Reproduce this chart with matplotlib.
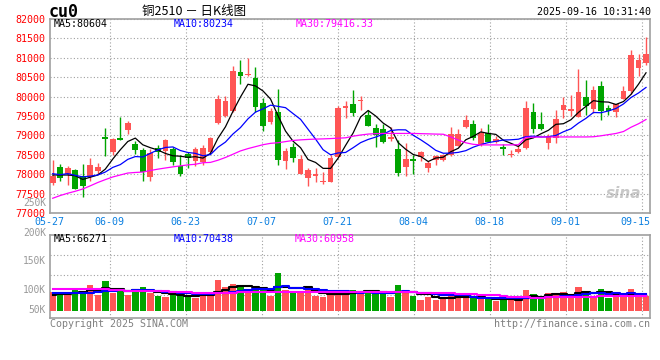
import matplotlib
matplotlib.use("Agg")
import matplotlib.pyplot as plt
import numpy as np
import pandas as pd

# ---- data (cu0, daily K, 2025-05-27 .. 2025-09-16) ----
date_labels = ["05-27", "06-09", "06-23", "07-07", "07-21", "08-04", "08-18", "09-01", "09-15"]
date_index = [0, 8, 18, 28, 38, 48, 58, 68, 78]

opens = [77770, 78189, 78013, 78105, 77962, 77920, 78072, 78962, 78576, 78945,
         79147, 78769, 78618, 77920, 78668, 78601, 78660, 78206, 78517, 78341,
         78327, 78583, 79325, 79495, 79632, 80638, 80553, 80468, 79828, 79342,
         79606, 78335, 78702, 78011, 77892, 77960, 77789, 77789, 78455, 79717,
         79820, 79888, 79521, 79188, 79171, 78898, 78651, 78173, 78395, 78441,
         78152, 78373, 78373, 78492, 78737, 79220, 79288, 78754, 79068, 78834,
         78707, 78503, 78563, 78664, 79598, 79293, 78817, 78936, 79649, 79624,
         79479, 79997, 79675, 80286, 79700, 79598, 79929, 80142, 80727, 80872]
highs = [78366, 78265, 78214, 78139, 78256, 78416, 78290, 79198, 78945, 79483,
         79366, 78861, 78685, 78643, 78744, 78895, 78710, 78500, 78584, 78710,
         78753, 78967, 80050, 80016, 80792, 80954, 81005, 80775, 79956, 79709,
         80186, 78668, 78796, 78497, 78156, 78156, 78045, 78497, 79751, 79888,
         80161, 80024, 79649, 79291, 79291, 79222, 78881, 78796, 78497, 78610,
         78330, 78500, 78525, 79220, 79153, 79517, 79390, 79178, 79297, 78990,
         78783, 78630, 78758, 79878, 79827, 79598, 79030, 79649, 79980, 80031,
         80710, 80430, 80286, 80413, 79785, 79802, 80278, 81203, 81101, 81534]
lows = [77720, 77836, 77719, 77609, 77416, 77828, 78004, 78475, 78500, 78870,
        79030, 78517, 77819, 77819, 78416, 78374, 78248, 77946, 78172, 78223,
        78242, 78540, 79291, 79478, 79615, 80314, 80536, 79606, 79112, 79299,
        78242, 78131, 78327, 78011, 77687, 77789, 77747, 77789, 78455, 79461,
        79495, 79649, 79248, 78711, 78813, 78864, 77943, 77960, 78011, 78330,
        78051, 78229, 78339, 78475, 78720, 79178, 78881, 78729, 78839, 78800,
        78486, 78435, 78546, 78648, 79055, 79140, 78639, 78817, 79454, 79496,
        79471, 79522, 79581, 79403, 79522, 79479, 79929, 80057, 80541, 80812]
closes = [77955, 77903, 78164, 77618, 77685, 78240, 78189, 78920, 78920, 78878,
          79307, 78626, 78055, 78551, 78576, 78870, 78324, 77996, 78408, 78660,
          78685, 78924, 79948, 79888, 80656, 80528, 80570, 79734, 79240, 79623,
          78370, 78591, 78429, 78404, 78096, 77994, 77832, 78421, 79717, 79751,
          79589, 79905, 79248, 79009, 78839, 78950, 78020, 78395, 78335, 78585,
          78297, 78475, 78500, 79034, 79034, 79390, 78924, 79068, 78839, 78911,
          78639, 78529, 78648, 79700, 79165, 79165, 78978, 79420, 79777, 79675,
          80108, 79760, 80159, 79632, 79632, 79802, 80142, 81076, 80948, 81101]
# closes before the window, estimated from where the MA5/MA10 lines start
prior_closes = [78150, 77900, 78050, 78100, 78035, 77903, 78164, 77713, 78160]
# MA30 as drawn (Sina's line is not a plain mean of the visible closes)
ma30 = [77380, 77450, 77509, 77560, 77618, 77700, 77786, 77860, 77929, 77980,
        78030, 78045, 78055, 78095, 78130, 78160, 78189, 78215, 78240, 78256,
        78296, 78304, 78360, 78431, 78515, 78600, 78660, 78710, 78760, 78795,
        78811, 78840, 78870, 78885, 78896, 78905, 78910, 78918, 78928, 78938,
        78980, 79010, 79034, 79045, 79051, 79051, 79051, 79051, 79051, 79045,
        79040, 79034, 79030, 78960, 78880, 78810, 78770, 78755, 78755, 78755,
        78755, 78755, 78760, 78950, 78953, 78960, 78960, 78960, 78960, 78960,
        78960, 78960, 78965, 78990, 79020, 79050, 79100, 79210, 79300, 79410]

# volume in thousands of lots
volumes = [77.3, 73.3, 77.3, 85.5, 81.4, 105.8, 65.1, 122.1, 73.3, 81.4,
           65.1, 85.5, 97.7, 73.3, 61.1, 57.0, 65.1, 65.1, 65.1, 54.3,
           71.9, 77.3, 126.2, 97.7, 109.9, 96.3, 77.3, 96.3, 89.6, 62.4,
           154.7, 85.5, 81.4, 81.4, 85.5, 62.4, 57.0, 65.1, 77.3, 77.3,
           85.5, 77.3, 85.5, 71.9, 71.9, 57.0, 105.8, 81.4, 62.4, 44.8,
           57.0, 44.8, 54.3, 71.9, 54.3, 54.3, 51.6, 51.6, 48.8, 42.1,
           57.0, 44.8, 39.3, 85.5, 69.2, 51.6, 73.3, 69.2, 77.3, 57.0,
           97.7, 77.3, 57.0, 89.6, 54.3, 57.0, 57.0, 89.6, 62.4, 62.4]
prior_volumes = [80, 78, 79, 80, 78, 62, 60, 64, 61.7]
vol_ma30 = [91, 91, 90, 90, 89, 89, 88, 88, 87, 86,
            83, 82, 82, 82, 81, 81, 77, 76, 76, 73,
            73, 72, 72, 72, 73, 76, 77, 77, 77, 77,
            78, 78, 78, 78, 78, 77, 77, 77, 77, 76,
            76, 76, 76, 76, 76, 76, 76, 76, 76, 75,
            75, 74, 72, 72, 68, 68, 67, 64, 64, 63,
            59, 58, 58, 55, 54, 54, 57, 57, 57, 58,
            58, 58, 58, 59, 59, 60, 60, 60, 61, 61]

price_levels = list(range(77000, 82001, 500))
vol_labels = ["250K", "200K", "150K", "100K", "50K"]

main_legend = ["MA5:80604", "MA10:80234", "MA30:79416.33"]
vol_legend = ["MA5:66271", "MA10:70438", "MA30:60958"]

# ---- styling ----
RED = "#FF5555"
GREEN = "#00A400"
GRID = "#A0A0A0"
MA_COLORS = ["black", "#0000FF", "#FF00FF"]
DOTS = (0, (1, 2))
FS = 7.2

plt.rcParams["font.family"] = ["DejaVu Sans Mono"]

W, H = 660, 360
fig = plt.figure(figsize=(W / 100, H / 100), dpi=100)


def rect(left, top, right, bottom):
    return [left / W, 1 - bottom / H, (right - left) / W, (bottom - top) / H]


def fpos(x, y):
    return x / W, 1 - y / H


x = np.arange(len(closes))
o = np.array(opens, float)
c = np.array(closes, float)
up = c >= o
colors = np.where(up, RED, GREEN)

ma5 = pd.Series(prior_closes + closes).rolling(5).mean().to_numpy()[len(prior_closes):]
ma10 = pd.Series(prior_closes + closes).rolling(10).mean().to_numpy()[len(prior_closes):]
vma5 = pd.Series(prior_volumes + volumes).rolling(5).mean().to_numpy()[len(prior_volumes):]
vma10 = pd.Series(prior_volumes + volumes).rolling(10).mean().to_numpy()[len(prior_volumes):]

# Sina spaces its date grid a touch wider than the candle slots
grid_pos = [i * 1.012 - 0.5 for i in date_index]
xlim = (-0.36, 79.53)

# ---- price panel ----
ax = fig.add_axes(rect(50, 19, 650, 213))
ax.set_xlim(*xlim)
ax.set_ylim(price_levels[0], price_levels[-1])

ax.vlines(x, lows, highs, colors=colors, lw=1, zorder=3)
body_h = np.maximum(np.abs(c - o), 24)
ax.bar(x, body_h, bottom=(o + c) / 2 - body_h / 2, width=0.76, color=colors,
       linewidth=0, zorder=4)
for ma, col in zip([ma5, ma10, ma30], MA_COLORS):
    ax.plot(x, ma, color=col, lw=0.9, zorder=5)

ax.set_yticks(price_levels)
ax.set_yticklabels([str(v) for v in price_levels])
ax.tick_params(axis="y", length=0, pad=3, labelsize=FS, labelcolor="red")
ax.set_xticks([])
ax.yaxis.grid(True, linestyle=DOTS, color=GRID, lw=0.8)
for p in grid_pos:
    ax.axvline(p, linestyle=DOTS, color=GRID, lw=0.8, zorder=0)
for s in ax.spines.values():
    s.set_color(GRID)
    s.set_linewidth(1.2)

# date labels below the price panel
tr = ax.get_xaxis_transform()
for k, (p, lab) in enumerate(zip(grid_pos, date_labels)):
    last = k == len(date_labels) - 1
    ax.text(xlim[1] if last else p, -0.047, lab, transform=tr,
            ha="right" if last else "center", va="center",
            fontsize=FS, color="#0A7FE0")

ax.text(0.985, 0.10, "sina", transform=ax.transAxes, ha="right", va="center",
        fontsize=11, fontstyle="italic", fontweight="bold", color="#C8C8C8",
        family=["DejaVu Sans"], zorder=1)

# ---- volume panel ----
axv = fig.add_axes(rect(50, 234.5, 650, 318))
axv.set_xlim(*xlim)
axv.set_ylim(-28.5, 310.5)
axv.bar(x, volumes, width=0.86, color=colors, linewidth=0, zorder=3)
for ma, col in zip([vma5, vma10, vol_ma30], MA_COLORS):
    axv.plot(x, ma, color=col, lw=1.5, drawstyle="steps-mid", zorder=4)
axv.set_xticks([])
axv.set_yticks([])
for f in (0.273, 0.513, 0.753):
    axv.plot([0, 1], [f, f], transform=axv.transAxes, linestyle=DOTS,
             color=GRID, lw=0.8, zorder=0)
for p in grid_pos:
    axv.axvline(p, linestyle=DOTS, color=GRID, lw=0.8, zorder=0)
for s in axv.spines.values():
    s.set_color(GRID)
    s.set_linewidth(1.2)

for lab, y in zip(vol_labels, [203.5, 232.5, 261, 290, 310]):
    fig.text(*fpos(46, y), lab, ha="right", va="center", fontsize=6.9, color="#999999")

# ---- header / footer text ----
fig.text(*fpos(49, 12), "cu0", fontsize=12, fontweight="bold", va="center")
fig.text(*fpos(142, 11), "铜2510 － 日K线图", fontsize=9, va="center",
         family=["Noto Sans CJK SC", "DejaVu Sans"])
fig.text(*fpos(651, 12), "2025-09-16 10:31:40", ha="right", va="center", fontsize=FS)

for lab, xp, col in zip(main_legend, [54, 174, 296], MA_COLORS):
    fig.text(*fpos(xp, 24), lab, va="center", fontsize=FS, color=col)
for lab, xp, col in zip(vol_legend, [54, 174, 295], MA_COLORS):
    fig.text(*fpos(xp, 239), lab, va="center", fontsize=FS, color=col)

fig.text(*fpos(50, 324), "Copyright 2025 SINA.COM", va="center", fontsize=FS, color="#808080")
fig.text(*fpos(650, 324), "http://finance.sina.com.cn", ha="right", va="center",
         fontsize=FS, color="#808080")

fig.savefig("out.png", dpi=100, facecolor="white")
